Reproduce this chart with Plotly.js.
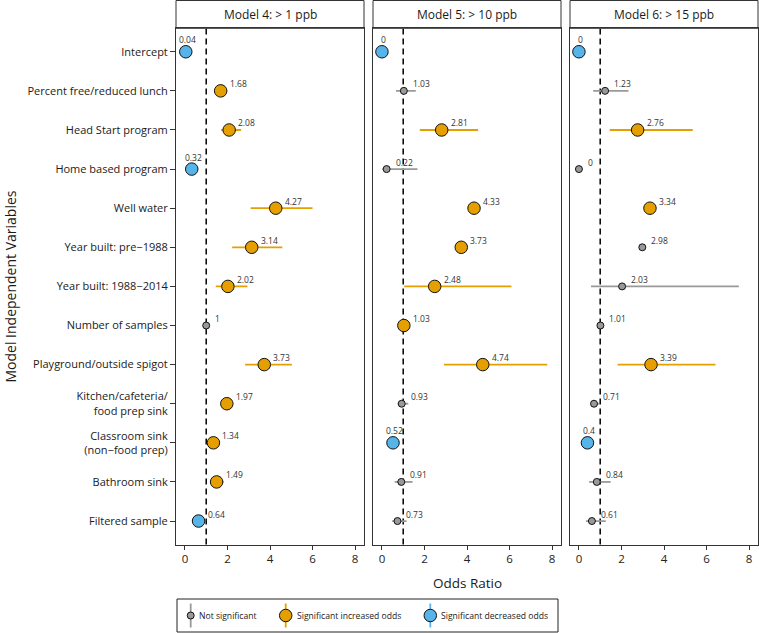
<!DOCTYPE html>
<html>
<head>
<meta charset="utf-8">
<script src="https://cdn.plot.ly/plotly-3.0.1.min.js"></script>
<style>html,body{margin:0;padding:0;background:#fff;}#chart{width:759px;height:633px;}</style>
</head>
<body>
<div id="chart"></div>
<script>
// ---------- data ----------
const categories = [
  "Intercept",
  "Percent free/reduced lunch",
  "Head Start program",
  "Home based program",
  "Well water",
  "Year built: pre\u22121988",
  "Year built: 1988\u22122014",
  "Number of samples",
  "Playground/outside spigot",
  "Kitchen/cafeteria/<br>food prep sink",
  "Classroom sink<br>(non\u2212food prep)",
  "Bathroom sink",
  "Filtered sample"
];

const modelTitles = ["Model 4: > 1 ppb", "Model 5: > 10 ppb", "Model 6: > 15 ppb"];

const m4Est = [0.04, 1.68, 2.08, 0.32, 4.27, 3.14, 2.02, 1, 3.73, 1.97, 1.34, 1.49, 0.64];
const m4Lo  = [0.01, 1.45, 1.70, 0.15, 3.09, 2.22, 1.45, 0.97, 2.83, 1.70, 1.10, 1.20, 0.45];
const m4Hi  = [0.12, 1.95, 2.64, 0.60, 6.00, 4.58, 2.94, 1.03, 5.03, 2.25, 1.60, 1.82, 0.85];
const m4Sig = ["dec","inc","inc","dec","inc","inc","inc","ns","inc","inc","inc","inc","dec"];

const m5Est = [0, 1.03, 2.81, 0.22, 4.33, 3.73, 2.48, 1.03, 4.74, 0.93, 0.52, 0.91, 0.73];
const m5Lo  = [0, 0.66, 1.78, 0.02, 4.05, 3.45, 1.05, 1.01, 2.92, 0.74, 0.30, 0.60, 0.48];
const m5Hi  = [0, 1.59, 4.52, 1.67, 4.60, 4.00, 6.09, 1.05, 7.77, 1.24, 0.75, 1.44, 1.16];
const m5Sig = ["dec","ns","inc","ns","inc","inc","inc","inc","inc","ns","dec","ns","ns"];

const m6Est = [0, 1.23, 2.76, 0, 3.34, 2.98, 2.03, 1.01, 3.39, 0.71, 0.4, 0.84, 0.61];
const m6Lo  = [0, 0.67, 1.45, 0, 3.10, 2.85, 0.57, 0.98, 1.82, 0.55, 0.20, 0.48, 0.33];
const m6Hi  = [0, 2.33, 5.35, 0, 3.60, 3.12, 7.52, 1.04, 6.42, 0.95, 0.60, 1.49, 1.26];
const m6Sig = ["dec","ns","inc","ns","inc","ns","ns","ns","inc","ns","dec","ns","ns"];

const sigTypes = ["ns", "inc", "dec"];
const legendLabels = ["Not significant", "Significant increased odds", "Significant decreased odds"];
const xTicks = [0, 2, 4, 6, 8];
const refLine = 1;

// ---------- styles ----------
const W = 759, H = 633;
const colors = {ns: "#999999", inc: "#E69F00", dec: "#56B4E9"};
const sizes = {ns: 7, inc: 12.5, dec: 12.5};
const txt = "#1a1a1a";
const frame = "#333333";
const fontFam = "'Open Sans', Lato, sans-serif";

const models = [
  {est: m4Est, lo: m4Lo, hi: m4Hi, sig: m4Sig},
  {est: m5Est, lo: m5Lo, hi: m5Hi, sig: m5Sig},
  {est: m6Est, lo: m6Lo, hi: m6Hi, sig: m6Sig}
];

const panelPx = [[176, 364], [373, 561], [570, 758]];
const plotTop = 28.3, plotBot = 544.5;
const yDom = [1 - plotBot / H, 1 - plotTop / H];
const xRange = [-0.42, 8.42];

const traces = [];
const annotations = [];
const shapes = [];
const layout = {
  width: W, height: H,
  margin: {l: 0, r: 0, t: 0, b: 0},
  paper_bgcolor: "#ffffff",
  plot_bgcolor: "rgba(0,0,0,0)",
  font: {family: fontFam, color: txt},
  showlegend: false,
  hovermode: false
};

models.forEach((m, k) => {
  const sfx = k === 0 ? "" : String(k + 1);
  const xa = "x" + sfx, ya = "y" + sfx;
  layout["xaxis" + sfx] = {
    domain: [panelPx[k][0] / W, panelPx[k][1] / W],
    anchor: ya,
    range: xRange,
    tickvals: xTicks,
    ticks: "outside", ticklen: 4, tickcolor: frame, tickwidth: 1,
    showline: true, mirror: true, linecolor: frame, linewidth: 1,
    showgrid: false, zeroline: false,
    tickfont: {size: 11.5, color: "#222222", family: fontFam}
  };
  const yax = {
    domain: yDom,
    anchor: xa,
    type: "category",
    categoryorder: "array",
    categoryarray: categories,
    range: [categories.length - 0.4, -0.6],
    showline: true, mirror: true, linecolor: frame, linewidth: 1,
    showgrid: false, zeroline: false
  };
  if (k === 0) {
    Object.assign(yax, {ticks: "outside", ticklen: 5, tickcolor: frame, tickwidth: 1,
      tickfont: {size: 11, color: txt, family: fontFam}});
  } else {
    Object.assign(yax, {matches: "y", showticklabels: false, ticks: ""});
  }
  layout["yaxis" + sfx] = yax;

  // reference line at OR = 1
  shapes.push({type: "line", layer: "below", xref: xa, yref: "paper",
    x0: refLine, x1: refLine, y0: yDom[0], y1: yDom[1],
    line: {color: "#000000", width: 1.5, dash: "6px,4px"}});

  // strip header
  shapes.push({type: "rect", layer: "below", xref: xa + " domain", yref: "paper",
    x0: 0, x1: 1, y0: yDom[1], y1: 1 - 0.5 / H,
    fillcolor: "#ffffff", line: {color: frame, width: 1}});
  annotations.push({xref: xa + " domain", yref: "paper", x: 0.5, y: 1 - 14.5 / H,
    xanchor: "center", yanchor: "middle", showarrow: false,
    text: modelTitles[k], font: {size: 12, color: txt, family: fontFam}});

  sigTypes.forEach(s => {
    const idx = m.est.map((v, i) => i).filter(i => m.sig[i] === s);
    if (!idx.length) return;
    traces.push({
      type: "scatter", mode: "markers",
      x: idx.map(i => m.est[i]),
      y: idx.map(i => categories[i]),
      xaxis: xa, yaxis: ya,
      cliponaxis: false,
      marker: {size: sizes[s], color: colors[s], line: {color: "#111111", width: 1}},
      error_x: {type: "data", symmetric: false,
        array: idx.map(i => m.hi[i] - m.est[i]),
        arrayminus: idx.map(i => m.est[i] - m.lo[i]),
        color: colors[s], thickness: 1.8, width: 0},
      hoverinfo: "skip"
    });
  });

  // value labels
  m.est.forEach((v, i) => {
    const above = m.sig[i] !== "ns" && v < 0.6;
    annotations.push({
      xref: xa, yref: ya, x: v, y: categories[i],
      text: String(v), showarrow: false,
      xanchor: above ? "center" : "left", yanchor: "middle",
      xshift: above ? 2 : 7, yshift: above ? 12 : 7,
      font: {size: 8.5, color: "#333333", family: fontFam}
    });
  });
});

// axis titles
annotations.push({xref: "paper", yref: "paper", x: 467 / W, y: 1 - 583 / H,
  xanchor: "center", yanchor: "middle", showarrow: false,
  text: "Odds Ratio", font: {size: 13.5, color: txt, family: fontFam}});
annotations.push({xref: "paper", yref: "paper", x: 10 / W, y: 1 - 286.5 / H,
  xanchor: "center", yanchor: "middle", showarrow: false, textangle: -90,
  text: "Model Independent Variables", font: {size: 14, color: txt, family: fontFam}});

// ---------- custom legend ----------
const legBox = [177, 558, 599, 632];
shapes.push({type: "rect", layer: "below", xref: "paper", yref: "paper",
  x0: legBox[0] / W, x1: legBox[1] / W, y0: 1 - legBox[3] / H, y1: 1 - legBox[2] / H,
  fillcolor: "rgba(0,0,0,0)", line: {color: "#222222", width: 1}});
layout.xaxis4 = {domain: [legBox[0] / W, legBox[1] / W], range: [legBox[0], legBox[1]],
  anchor: "y4", visible: false, fixedrange: true};
layout.yaxis4 = {domain: [1 - legBox[3] / H, 1 - legBox[2] / H], range: [legBox[3], legBox[2]],
  anchor: "x4", visible: false, fixedrange: true};
const legGlyphX = [190.7, 285.7, 430.3];
const legY = 615.5;
sigTypes.forEach((s, j) => {
  traces.push({
    type: "scatter", mode: "markers", x: [legGlyphX[j]], y: [legY],
    xaxis: "x4", yaxis: "y4", cliponaxis: false,
    marker: {size: sizes[s], color: colors[s], line: {color: "#111111", width: 1}},
    error_y: {type: "constant", value: 12, color: colors[s], thickness: 1.8, width: 0},
    hoverinfo: "skip"
  });
  annotations.push({xref: "paper", yref: "paper",
    x: (legGlyphX[j] + (s === "ns" ? 6 : 9)) / W, y: 1 - legY / H,
    xanchor: "left", yanchor: "middle", showarrow: false,
    text: legendLabels[j], font: {size: 8.6, color: txt, family: fontFam}});
});

layout.shapes = shapes;
layout.annotations = annotations;

Plotly.newPlot("chart", traces, layout, {staticPlot: true, displayModeBar: false});
</script>
</body>
</html>
